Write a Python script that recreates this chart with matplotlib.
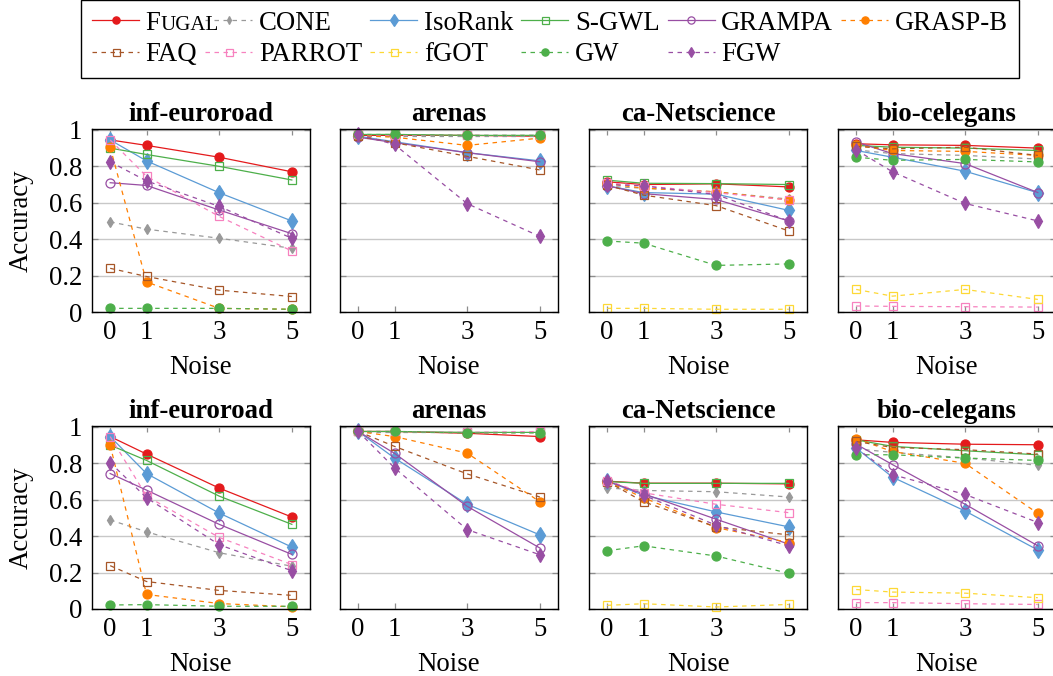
import numpy as np
import matplotlib
matplotlib.use("Agg")
import matplotlib.pyplot as plt

plt.rcParams["font.family"] = ["Liberation Serif", "DejaVu Serif"]

nan = np.nan
noise = [0, 1, 3, 5]
datasets = ["inf-euroroad", "arenas", "ca-Netscience", "bio-celegans"]
methods = ["FUGAL", "CONE", "IsoRank", "S-GWL", "GRAMPA", "GRASP-B",
           "FAQ", "PARROT", "fGOT", "GW", "FGW"]
ytick_vals = [0, 0.2, 0.4, 0.6, 0.8, 1]
ytick_labels = ["0", "0.2", "0.4", "0.6", "0.8", "1"]

# ---- first row of results ----
euroroad_a = {
    "FUGAL":   [0.945, 0.915, 0.850, 0.770],
    "CONE":    [0.495, 0.455, 0.405, 0.350],
    "IsoRank": [0.945, 0.830, 0.655, 0.500],
    "S-GWL":   [0.900, 0.865, 0.800, 0.725],
    "GRAMPA":  [0.710, 0.695, 0.560, 0.430],
    "GRASP-B": [0.905, 0.165, 0.020, 0.015],
    "FAQ":     [0.240, 0.195, 0.120, 0.085],
    "PARROT":  [0.945, 0.745, 0.525, 0.335],
    "fGOT":    [nan, nan, nan, nan],
    "GW":      [0.020, 0.020, 0.020, 0.015],
    "FGW":     [0.825, 0.720, 0.580, 0.405],
}
arenas_a = {
    "FUGAL":   [0.970, 0.970, 0.970, 0.965],
    "CONE":    [0.965, 0.965, 0.965, 0.965],
    "IsoRank": [0.965, 0.935, 0.875, 0.830],
    "S-GWL":   [0.975, 0.975, 0.970, 0.970],
    "GRAMPA":  [0.960, 0.930, 0.875, 0.825],
    "GRASP-B": [0.970, 0.960, 0.915, 0.955],
    "FAQ":     [0.965, 0.930, 0.855, 0.780],
    "PARROT":  [0.975, 0.970, 0.970, 0.970],
    "fGOT":    [nan, nan, nan, nan],
    "GW":      [0.975, 0.975, 0.970, 0.970],
    "FGW":     [0.975, 0.920, 0.595, 0.415],
}
netscience_a = {
    "FUGAL":   [0.715, 0.700, 0.704, 0.687],
    "CONE":    [0.690, 0.680, 0.660, 0.620],
    "IsoRank": [0.693, 0.656, 0.647, 0.558],
    "S-GWL":   [0.724, 0.707, 0.705, 0.700],
    "GRAMPA":  [0.693, 0.650, 0.618, 0.500],
    "GRASP-B": [0.705, 0.680, 0.660, 0.615],
    "FAQ":     [0.696, 0.642, 0.584, 0.445],
    "PARROT":  [0.710, 0.693, 0.655, 0.615],
    "fGOT":    [0.020, 0.020, 0.015, 0.015],
    "GW":      [0.390, 0.378, 0.256, 0.264],
    "FGW":     [0.700, 0.693, 0.645, 0.500],
}
celegans_a = {
    "FUGAL":   [0.924, 0.918, 0.915, 0.900],
    "CONE":    [0.890, 0.870, 0.860, 0.840],
    "IsoRank": [0.887, 0.850, 0.773, 0.655],
    "S-GWL":   [0.915, 0.905, 0.900, 0.887],
    "GRAMPA":  [0.933, 0.870, 0.815, 0.656],
    "GRASP-B": [0.915, 0.887, 0.882, 0.860],
    "FAQ":     [0.910, 0.896, 0.905, 0.860],
    "PARROT":  [0.033, 0.031, 0.029, 0.027],
    "fGOT":    [0.124, 0.087, 0.124, 0.069],
    "GW":      [0.850, 0.833, 0.838, 0.824],
    "FGW":     [0.890, 0.770, 0.596, 0.500],
}

# ---- second row of results ----
euroroad_b = {
    "FUGAL":   [0.947, 0.851, 0.664, 0.505],
    "CONE":    [0.489, 0.424, 0.309, 0.235],
    "IsoRank": [0.947, 0.744, 0.527, 0.340],
    "S-GWL":   [0.900, 0.816, 0.620, 0.465],
    "GRAMPA":  [0.744, 0.653, 0.465, 0.300],
    "GRASP-B": [0.900, 0.080, 0.030, 0.012],
    "FAQ":     [0.238, 0.151, 0.102, 0.075],
    "PARROT":  [0.947, 0.620, 0.393, 0.244],
    "fGOT":    [nan, nan, nan, nan],
    "GW":      [0.022, 0.024, 0.015, 0.015],
    "FGW":     [0.804, 0.611, 0.353, 0.210],
}
arenas_b = {
    "FUGAL":   [0.975, 0.975, 0.965, 0.947],
    "CONE":    [0.970, 0.970, 0.970, 0.970],
    "IsoRank": [0.975, 0.829, 0.575, 0.407],
    "S-GWL":   [0.975, 0.975, 0.970, 0.970],
    "GRAMPA":  [0.975, 0.855, 0.564, 0.335],
    "GRASP-B": [0.975, 0.947, 0.856, 0.589],
    "FAQ":     [0.975, 0.893, 0.742, 0.615],
    "PARROT":  [0.975, 0.975, 0.970, 0.975],
    "fGOT":    [nan, nan, nan, nan],
    "GW":      [0.975, 0.975, 0.967, 0.967],
    "FGW":     [0.975, 0.775, 0.436, 0.298],
}
netscience_b = {
    "FUGAL":   [0.702, 0.691, 0.691, 0.687],
    "CONE":    [0.665, 0.651, 0.644, 0.615],
    "IsoRank": [0.702, 0.625, 0.533, 0.451],
    "S-GWL":   [0.700, 0.690, 0.690, 0.690],
    "GRAMPA":  [0.702, 0.633, 0.493, 0.356],
    "GRASP-B": [0.700, 0.611, 0.447, 0.365],
    "FAQ":     [0.700, 0.589, 0.451, 0.407],
    "PARROT":  [0.705, 0.638, 0.575, 0.529],
    "fGOT":    [0.020, 0.029, 0.011, 0.025],
    "GW":      [0.320, 0.347, 0.291, 0.196],
    "FGW":     [0.705, 0.625, 0.460, 0.347],
}
celegans_b = {
    "FUGAL":   [0.929, 0.915, 0.905, 0.902],
    "CONE":    [0.880, 0.860, 0.830, 0.789],
    "IsoRank": [0.884, 0.724, 0.538, 0.324],
    "S-GWL":   [0.929, 0.893, 0.869, 0.847],
    "GRAMPA":  [0.905, 0.793, 0.575, 0.347],
    "GRASP-B": [0.935, 0.865, 0.800, 0.525],
    "FAQ":     [0.920, 0.887, 0.875, 0.851],
    "PARROT":  [0.035, 0.035, 0.029, 0.025],
    "fGOT":    [0.107, 0.093, 0.087, 0.062],
    "GW":      [0.847, 0.847, 0.829, 0.816],
    "FGW":     [0.884, 0.738, 0.629, 0.475],
}

rows = [
    [euroroad_a, arenas_a, netscience_a, celegans_a],
    [euroroad_b, arenas_b, netscience_b, celegans_b],
]

# line / marker styles per method
DASH = (0, (3.6, 3.6))
styles = {
    "FUGAL":   dict(color="#e41a1c", ls="-",  marker="o", mfc="#e41a1c", ms=6.5),
    "CONE":    dict(color="#999999", ls=DASH, marker="d", mfc="#999999", ms=5.0),
    "IsoRank": dict(color="#5b9bd5", ls="-",  marker="d", mfc="#5b9bd5", ms=8.0),
    "S-GWL":   dict(color="#4daf4a", ls="-",  marker="s", mfc="none",    ms=6.3),
    "GRAMPA":  dict(color="#984ea3", ls="-",  marker="o", mfc="none",    ms=6.5),
    "GRASP-B": dict(color="#ff7f00", ls=DASH, marker="o", mfc="#ff7f00", ms=6.5),
    "FAQ":     dict(color="#a65628", ls=DASH, marker="s", mfc="none",    ms=6.3),
    "PARROT":  dict(color="#f781bf", ls=DASH, marker="s", mfc="none",    ms=6.3),
    "fGOT":    dict(color="#fdd835", ls=DASH, marker="s", mfc="none",    ms=6.3),
    "GW":      dict(color="#4daf4a", ls=DASH, marker="o", mfc="#4daf4a", ms=6.5),
    "FGW":     dict(color="#984ea3", ls=DASH, marker="d", mfc="#984ea3", ms=7.0),
}

FS = 19.3
W, H = 1053, 676
fig = plt.figure(figsize=(W / 100, H / 100), dpi=100)

lefts = [92, 340, 589, 838]
panel_w = 218
row_bottoms = [312, 609]
panel_h = 183

handles = {}
for r, row in enumerate(rows):
    for c, res in enumerate(row):
        ax = fig.add_axes([lefts[c] / W, (H - row_bottoms[r]) / H,
                           panel_w / W, panel_h / H])
        for m in methods:
            st = styles[m]
            ln, = ax.plot(noise, res[m], color=st["color"], linestyle=st["ls"],
                          lw=0.9, marker=st["marker"], ms=st["ms"],
                          mfc=st["mfc"], mec=st["color"], mew=0.9,
                          label=m, clip_on=False)
            if r == 0 and c == 0:
                handles[m] = ln
        ax.set_xlim(-0.5, 5.5)
        ax.set_ylim(0, 1.005)
        ax.set_xticks(noise)
        ax.set_xticklabels([str(v) for v in noise])
        ax.set_yticks(ytick_vals)
        if c == 0:
            ax.set_yticklabels(ytick_labels)
            ax.set_ylabel("Accuracy", fontsize=FS, labelpad=11)
        else:
            ax.set_yticklabels([])
        ax.set_xlabel("Noise", fontsize=FS, labelpad=7)
        ax.set_title(datasets[c], fontsize=FS, fontweight="bold", pad=5.5)
        ax.yaxis.grid(True, color="#c8c8c8", lw=1.0)
        ax.set_axisbelow(True)
        ax.tick_params(axis="both", direction="in", length=4, width=0.9,
                       color="#8c8c8c", labelcolor="black", labelsize=FS,
                       top=True, right=True)
        ax.tick_params(axis="x", pad=6)
        ax.tick_params(axis="y", pad=7)
        for sp in ax.spines.values():
            sp.set_linewidth(1.0)
            sp.set_color("black")

# legend is filled column by column: arrange so rows read left to right
ncol = 6
order = []
for col in range(ncol):
    for row_i in range(2):
        k = row_i * ncol + col
        if k < len(methods):
            order.append(methods[k])
leg_handles = [handles[m] for m in order]
leg_labels = ["FUGAl" if m == "FUGAL" else m for m in order]
leg = fig.legend(leg_handles, leg_labels, loc="upper center",
                 bbox_to_anchor=(550 / W, 1.0), ncol=ncol, fontsize=FS,
                 frameon=True, fancybox=False, edgecolor="black",
                 framealpha=1.0, borderpad=0.4, borderaxespad=0.0,
                 handlelength=1.75, handletextpad=0.25, columnspacing=0.3,
                 labelspacing=0.25, markerscale=0.8)
leg.get_frame().set_linewidth(1.0)

# small caps for the FUGAL legend entry
fig.canvas.draw()
renderer = fig.canvas.get_renderer()
t0 = leg.get_texts()[0]
t0.set_text("F")
fig.canvas.draw()
bb = t0.get_window_extent(renderer)
_, _, lp_descent = renderer.get_text_width_height_descent(
    "lp", t0.get_fontproperties(), ismath=False)
fig.text(bb.x1 / fig.bbox.width, (bb.y0 + lp_descent) / fig.bbox.height,
         "UGAL", fontsize=FS * 0.78, ha="left", va="baseline", zorder=20)

fig.savefig("out.png", dpi=100)
